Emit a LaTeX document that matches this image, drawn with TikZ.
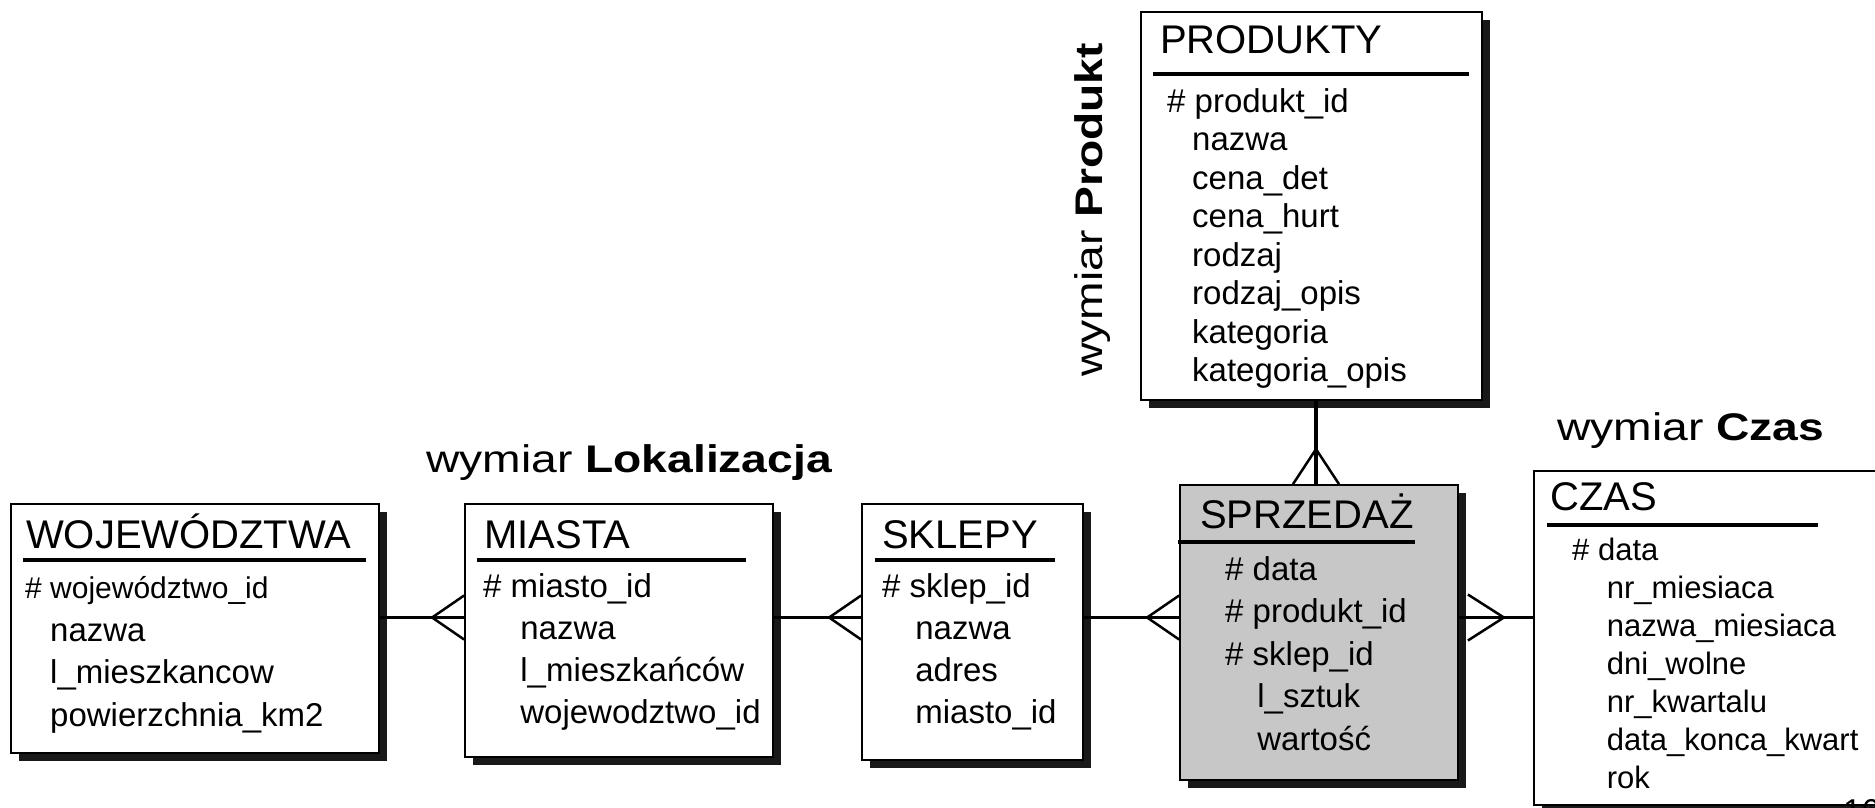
\documentclass[tikz,border=0pt]{standalone}
\usepackage{fontspec}
\setmainfont{Liberation Sans}
\usetikzlibrary{shadows, fit}
\newcommand{\wciecie}[1][25pt]{\hspace*{#1}}

\begin{document}
\begin{tikzpicture}[
  x=1pt, y=-1pt,
  encja/.style={draw, line width=1.8pt, fill=white, inner sep=0pt,
    drop shadow={shadow xshift=8pt, shadow yshift=-8pt, fill=black!90, opacity=1}},
  fakt/.style={encja, fill=black!22},
  tytul/.style={anchor=base west, inner sep=0pt, font=\fontsize{40}{48}\selectfont},
  % kotwica na linii bazowej ostatniego wiersza
  pola/.style 2 args={anchor=base west, inner sep=0pt, align=left, font=\fontsize{#1}{#2}\selectfont},
  etykieta/.style={anchor=base west, inner sep=0pt, font=\fontsize{38.5}{46}\selectfont},
  podkreslenie/.style={line width=3.5pt},
  polaczenie/.style={line width=3.5pt},
  stopka/.style={line width=2.5pt}
]
  \useasboundingbox (0,0) rectangle (1875,807);

  % encje
  \node[encja, fit={(11,504) (379,753)}] (woj) {};
  \node[encja, fit={(465,504) (773,757)}] (miasta) {};
  \node[encja, fit={(862,504) (1083,760)}] (sklepy) {};
  \node[fakt, fit={(1180,485) (1458,780)}] (sprz) {};
  \node[encja, fit={(1141,12) (1482,400)}] (prod) {};
  \node[encja, fit={(1534,471) (1910,805)}] (czas) {};

  % nazwy tabel
  \node[tytul] (woj-t) at (26,548) {WOJEWÓDZTWA};
  \node[tytul] (miasta-t) at (484,548) {MIASTA};
  \node[tytul] (sklepy-t) at (882,548) {SKLEPY};
  \node[tytul] (sprz-t) at (1200,528) {SPRZEDAŻ};
  \node[tytul] (prod-t) at (1160,53) {PRODUKTY};
  \node[tytul] (czas-t) at (1550,510) {CZAS};
  \draw[podkreslenie] (23,560) -- (366,560);
  \draw[podkreslenie] (477,560) -- (746,560);
  \draw[podkreslenie] (875,560) -- (1055,560);
  \draw[podkreslenie] (1178,542) -- (1415,542);
  \draw[podkreslenie] (1153,74) -- (1469,74);
  \draw[podkreslenie] (1547,525) -- (1818,525);

  % atrybuty
  \node[pola={33}{42.5}] (woj-p) at (25,726) {
    {\fontsize{30}{42.5}\selectfont\# województwo\_id}\\
    \wciecie nazwa\\
    \wciecie l\_mieszkancow\\
    \wciecie powierzchnia\_km2
  };
  \node[pola={33}{42}] (miasta-p) at (483,723) {
    \# miasto\_id\\
    \wciecie[28pt] nazwa\\
    \wciecie[28pt] l\_mieszkańców\\
    \wciecie[28pt] wojewodztwo\_id
  };
  \node[pola={33}{42}] (sklepy-p) at (882,723) {
    \# sklep\_id\\
    \wciecie[24pt] nazwa\\
    \wciecie[24pt] adres\\
    \wciecie[24pt] miasto\_id
  };
  \node[pola={33}{42.5}] (sprz-p) at (1225,750) {
    \# data\\
    \# produkt\_id\\
    \# sklep\_id\\
    \wciecie[23pt] l\_sztuk\\
    \wciecie[23pt] wartość
  };
  \node[pola={33}{38.5}] (prod-p) at (1167,381.5) {
    \# produkt\_id\\
    \wciecie nazwa\\
    \wciecie cena\_det\\
    \wciecie cena\_hurt\\
    \wciecie rodzaj\\
    \wciecie rodzaj\_opis\\
    \wciecie kategoria\\
    \wciecie kategoria\_opis
  };
  \node[pola={31}{38}] (czas-p) at (1572,788) {
    \# data\\
    \wciecie[26pt] nr\_miesiaca\\
    \wciecie[26pt] nazwa\_miesiaca\\
    \wciecie[26pt] dni\_wolne\\
    \wciecie[26pt] nr\_kwartalu\\
    \wciecie[26pt] data\_konca\_kwart\\
    \wciecie[26pt] rok
  };

  % wymiary
  \node[etykieta] (wym-lok) at (426,472) {\scalebox{1.2}[1]{wymiar \textbf{Lokalizacja}}};
  \node[etykieta] (wym-czas) at (1557,440) {\scalebox{1.2}[1]{wymiar \textbf{Czas}}};
  \node[etykieta, rotate=90] (wym-prod) at (1102,377) {\scalebox{1.2}[1]{wymiar \textbf{Produkt}}};

  % zwiazki
  \coordinate (os) at (0,617.5);
  \coordinate (osProd) at (1316,0);
  \foreach \a/\b in {woj/miasta, miasta/sklepy, sklepy/sprz} {
    \draw[polaczenie] (\a.east |- os) -- (\b.west |- os);
    \draw[stopka] (\b.west |- os) ++(0,-22) -- ++(-32,22) -- ++(32,22);
  }
  \draw[polaczenie] (sprz.east |- os) -- (czas.west |- os);
  \draw[stopka] (sprz.east |- os) ++(9,-23) -- ++(36,23) -- ++(-36,23);
  \draw[polaczenie] (prod.south -| osProd) -- (sprz.north -| osProd);
  \draw[stopka] (sprz.north -| osProd) ++(-23,0) -- ++(23,-35) -- ++(23,35);

  \node[anchor=north west, inner sep=0pt, font=\fontsize{33}{40}\selectfont] (strona) at (1843,799) {16};
\end{tikzpicture}
\end{document}
